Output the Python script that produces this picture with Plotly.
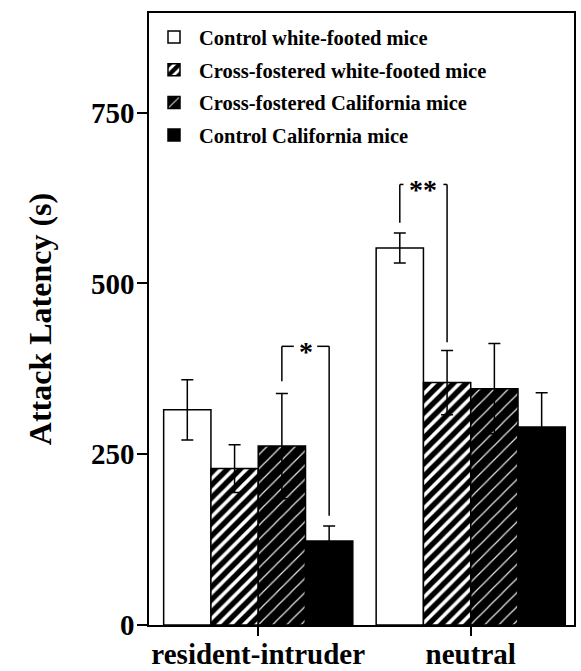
import plotly.graph_objects as go

categories = ["resident-intruder", "neutral"]
series_names = [
    "Control white-footed mice",
    "Cross-fostered white-footed mice",
    "Cross-fostered California mice",
    "Control California mice",
]
control_wf = [315, 552]
control_wf_err = [44, 22]
cross_wf = [229, 355]
cross_wf_err = [35, 47]
cross_ca = [262, 346]
cross_ca_err = [77, 66]
control_ca = [123, 290]
control_ca_err = [22, 50]

y_ticks = [0, 250, 500, 750]
y_max = 896

# significance brackets: (category index, left bar #, right bar #, left foot, right foot, top, label)
brackets = [
    (0, 2, 3, 357, 160, 408, "*"),
    (1, 0, 1, 589, 414, 645, "**"),
]

FONT = "Liberation Serif, Times New Roman, serif"
BARGAP = 0.11
NBARS = 4
BARW = (1 - BARGAP) / NBARS

means = [control_wf, cross_wf, cross_ca, control_ca]
errs = [control_wf_err, cross_wf_err, cross_ca_err, control_ca_err]
styles = [
    dict(color="white", pattern=dict(shape="")),
    dict(color="white", pattern=dict(shape="/", fgcolor="black", bgcolor="white", size=9, solidity=0.6, fgopacity=1)),
    dict(color="black", pattern=dict(shape="/", fgcolor="white", bgcolor="black", size=10, solidity=0.12, fgopacity=0.9)),
    dict(color="black", pattern=dict(shape="")),
]

fig = go.Figure()
for i, name in enumerate(series_names):
    st = styles[i]
    fig.add_trace(go.Bar(
        x=categories, y=means[i], name=name, legendgroup=name,
        marker=dict(color=st["color"], pattern=st["pattern"], line=dict(color="black", width=1.5)),
        error_y=dict(type="data", array=errs[i], visible=True, color="black", thickness=1.5, width=6),
    ))

shapes = []
annotations = []
for cat, lb, rb, lfoot, rfoot, top, label in brackets:
    xl = cat - (1 - BARGAP) / 2 + BARW * (lb + 0.5)
    xr = cat - (1 - BARGAP) / 2 + BARW * (rb + 0.5)
    xm = (xl + xr) / 2
    half_gap = 0.045 * len(label) ** 0.9 + 0.01
    line = dict(color="black", width=1.5)
    shapes += [
        dict(type="line", xref="x", yref="y", x0=xl, x1=xl, y0=lfoot, y1=top, line=line),
        dict(type="line", xref="x", yref="y", x0=xr, x1=xr, y0=rfoot, y1=top, line=line),
        dict(type="line", xref="x", yref="y", x0=xl, x1=xm - half_gap, y0=top, y1=top, line=line),
        dict(type="line", xref="x", yref="y", x0=xm + half_gap, x1=xr, y0=top, y1=top, line=line),
    ]
    annotations.append(dict(x=xm, y=top, xref="x", yref="y", text=label, showarrow=False,
                            yanchor="middle", yshift=-5,
                            font=dict(family=FONT, size=28, color="black", weight="bold")))

fig.update_layout(
    width=581, height=671,
    margin=dict(l=149, r=7, t=13, b=46),
    paper_bgcolor="white", plot_bgcolor="white",
    barmode="group", bargap=BARGAP, bargroupgap=0,
    font=dict(family=FONT, color="black"),
    showlegend=True,
    legend=dict(x=0.0, y=0.993, xanchor="left", yanchor="top", bgcolor="rgba(0,0,0,0)",
                font=dict(family=FONT, size=20.5, color="black", weight="bold"),
                tracegroupgap=3, itemwidth=40),
    shapes=shapes, annotations=annotations,
    xaxis=dict(type="category", range=[-0.514, 1.486], showline=True, linecolor="black", linewidth=1.5,
               mirror=True, ticks="outside", ticklen=9, tickwidth=1.5, tickcolor="black",
               showgrid=False, automargin=False, ticklabelstandoff=-7,
               tickfont=dict(family=FONT, size=29, color="black", weight="bold")),
    yaxis=dict(range=[0, y_max], tickvals=y_ticks, showline=True, linecolor="black", linewidth=1.5,
               mirror=True, ticks="outside", ticklen=10, tickwidth=1.5, tickcolor="black",
               showgrid=False, zeroline=False, automargin=False, ticklabelstandoff=-3,
               tickfont=dict(family=FONT, size=29, color="black", weight="bold"),
               title=dict(text="Attack Latency (s)", standoff=30,
                          font=dict(family=FONT, size=32, color="black", weight="bold"))),
)

fig.write_html("out.html")
